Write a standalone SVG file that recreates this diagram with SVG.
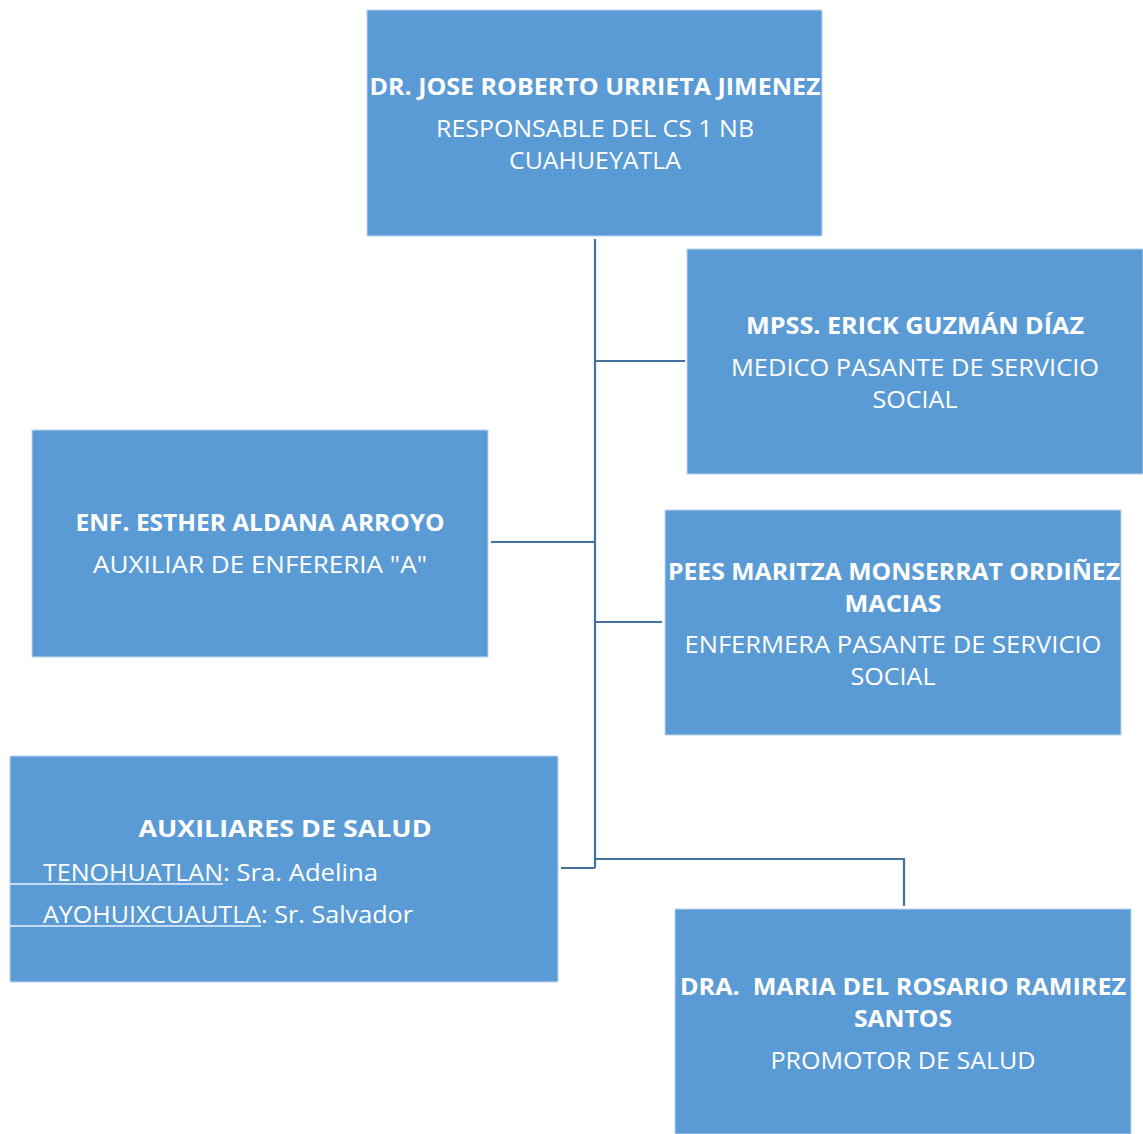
<svg xmlns="http://www.w3.org/2000/svg" width="1143" height="1134" viewBox="0 0 1143 1134">
<style>
.box{fill:#5B9BD5;stroke:#BDD7EE;stroke-width:1}
.t{font-family:"Open Sans","Liberation Sans",sans-serif;fill:#FFFFFF;font-size:23px;text-anchor:middle}
.b{font-weight:bold}
.l{text-anchor:start}
.c{fill:none;stroke:#41719C;stroke-width:2.2}
.u{stroke:#E8F0F8;stroke-width:1.6}
</style>
<rect width="1143" height="1134" fill="#FFFFFF"/>
<g id="connectors">
<path class="c" d="M595,239 V868"/>
<path class="c" d="M595,361 H685"/>
<path class="c" d="M491,542 H595"/>
<path class="c" d="M595,622 H662"/>
<path class="c" d="M561,868 H595"/>
<path class="c" d="M595,859 H904 V906"/>
</g>
<g id="node-director">
<rect class="box" x="367" y="10" width="455" height="226"/>
<text class="t b" x="595" y="95" textLength="451" lengthAdjust="spacingAndGlyphs">DR. JOSE ROBERTO URRIETA JIMENEZ</text>
<text class="t" x="595" y="137" textLength="318" lengthAdjust="spacingAndGlyphs">RESPONSABLE DEL CS 1 NB</text>
<text class="t" x="595" y="169" textLength="172" lengthAdjust="spacingAndGlyphs">CUAHUEYATLA</text>
</g>
<g id="node-mpss">
<rect class="box" x="687" y="249" width="456" height="225"/>
<text class="t b" x="915" y="334" textLength="338" lengthAdjust="spacingAndGlyphs">MPSS. ERICK GUZMÁN DÍAZ</text>
<text class="t" x="915" y="376" textLength="368" lengthAdjust="spacingAndGlyphs">MEDICO PASANTE DE SERVICIO</text>
<text class="t" x="915" y="408" textLength="85" lengthAdjust="spacingAndGlyphs">SOCIAL</text>
</g>
<g id="node-enf">
<rect class="box" x="32" y="430" width="456" height="227"/>
<text class="t b" x="260" y="531" textLength="369" lengthAdjust="spacingAndGlyphs">ENF. ESTHER ALDANA ARROYO</text>
<text class="t" x="260" y="573" textLength="334" lengthAdjust="spacingAndGlyphs">AUXILIAR DE ENFERERIA "A"</text>
</g>
<g id="node-pees">
<rect class="box" x="665" y="510" width="456" height="225"/>
<text class="t b" x="894" y="580" textLength="452" lengthAdjust="spacingAndGlyphs">PEES MARITZA MONSERRAT ORDIÑEZ</text>
<text class="t b" x="893" y="612" textLength="97" lengthAdjust="spacingAndGlyphs">MACIAS</text>
<text class="t" x="893" y="653" textLength="417" lengthAdjust="spacingAndGlyphs">ENFERMERA PASANTE DE SERVICIO</text>
<text class="t" x="893" y="685" textLength="85" lengthAdjust="spacingAndGlyphs">SOCIAL</text>
</g>
<g id="node-auxiliares">
<rect class="box" x="10" y="756" width="548" height="226"/>
<text class="t b" x="285" y="837" textLength="293" lengthAdjust="spacingAndGlyphs">AUXILIARES DE SALUD</text>
<text class="t l" x="43" y="881"><tspan textLength="180" lengthAdjust="spacingAndGlyphs">TENOHUATLAN</tspan><tspan textLength="155" lengthAdjust="spacingAndGlyphs">: Sra. Adelina</tspan></text>
<line class="u" x1="10" y1="884" x2="223" y2="884"/>
<text class="t l" x="43" y="923"><tspan textLength="218" lengthAdjust="spacingAndGlyphs">AYOHUIXCUAUTLA</tspan><tspan textLength="152" lengthAdjust="spacingAndGlyphs">: Sr. Salvador</tspan></text>
<line class="u" x1="10" y1="926" x2="261" y2="926"/>
</g>
<g id="node-promotor">
<rect class="box" x="675" y="909" width="456" height="225"/>
<text class="t b" x="903" y="995" textLength="446" lengthAdjust="spacingAndGlyphs">DRA.&#160; MARIA DEL ROSARIO RAMIREZ</text>
<text class="t b" x="903" y="1027" textLength="98" lengthAdjust="spacingAndGlyphs">SANTOS</text>
<text class="t" x="903" y="1069" textLength="265" lengthAdjust="spacingAndGlyphs">PROMOTOR DE SALUD</text>
</g>
</svg>
